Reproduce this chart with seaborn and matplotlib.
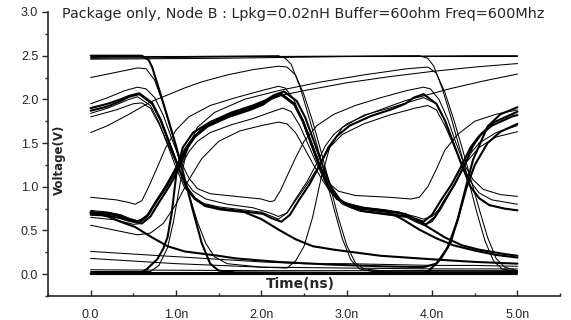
import matplotlib
matplotlib.use("Agg")
import matplotlib.pyplot as plt
from matplotlib.ticker import MultipleLocator, FixedLocator
import pandas as pd
import seaborn as sns

sns.set_style("ticks")
plt.rcParams["font.family"] = ["Liberation Sans", "DejaVu Sans"]

TITLE = "Package only, Node B : Lpkg=0.02nH Buffer=60ohm Freq=600Mhz"
X_LABEL = "Time(ns)"
Y_LABEL = "Voltage(V)"
x_ticks = [0.0, 1.0, 2.0, 3.0, 4.0, 5.0]
x_tick_labels = ["0.0", "1.0n", "2.0n", "3.0n", "4.0n", "5.0n"]
y_ticks = [0.0, 0.5, 1.0, 1.5, 2.0, 2.5, 3.0]
y_tick_labels = ["0.0", "0.5", "1.0", "1.5", "2.0", "2.5", "3.0"]

# Simulated waveforms at node B, (time ns, volts)
hold_high = [(0.0, 2.50), (5.0, 2.50)]
hold_high_b = [(0.0, 2.46), (1.5, 2.47), (3.0, 2.49), (4.5, 2.50), (5.0, 2.50)]

pat_a = [(0.0, 1.87), (0.2, 1.92), (0.35, 1.98), (0.45, 2.03), (0.57, 2.06), (0.72, 1.95),
         (0.82, 1.76), (0.92, 1.50), (1.02, 1.24), (1.12, 1.00), (1.22, 0.87), (1.34, 0.79),
         (1.52, 0.75), (1.77, 0.72), (2.02, 0.69), (2.12, 0.64), (2.235, 0.60), (2.335, 0.68),
         (2.435, 0.84), (2.565, 1.03), (2.685, 1.25), (2.785, 1.45), (2.885, 1.58), (3.035, 1.70),
         (3.285, 1.81), (3.535, 1.89), (3.685, 1.95), (3.785, 2.02), (3.9, 2.06), (4.05, 1.95),
         (4.15, 1.76), (4.25, 1.50), (4.35, 1.24), (4.45, 1.00), (4.55, 0.87), (4.67, 0.79),
         (4.85, 0.75), (5.0, 0.73)]
pat_b = [(0.0, 0.71), (0.2, 0.70), (0.35, 0.67), (0.45, 0.63), (0.57, 0.60), (0.67, 0.68),
         (0.77, 0.84), (0.9, 1.03), (1.02, 1.25), (1.12, 1.45), (1.22, 1.58), (1.37, 1.70),
         (1.62, 1.81), (1.87, 1.89), (2.02, 1.95), (2.12, 2.02), (2.235, 2.06), (2.385, 1.95),
         (2.485, 1.76), (2.585, 1.50), (2.685, 1.24), (2.785, 1.00), (2.885, 0.87), (3.005, 0.79),
         (3.185, 0.75), (3.435, 0.72), (3.685, 0.69), (3.785, 0.64), (3.9, 0.60), (4.0, 0.68),
         (4.1, 0.84), (4.23, 1.03), (4.35, 1.25), (4.45, 1.45), (4.55, 1.58), (4.7, 1.70),
         (4.95, 1.81), (5.0, 1.82)]
pat_c = [(0.0, 0.68), (0.2, 0.67), (0.35, 0.64), (0.45, 0.61), (0.6, 0.58), (0.7, 0.66),
         (0.8, 0.82), (0.93, 1.02), (1.05, 1.25), (1.15, 1.47), (1.25, 1.61), (1.4, 1.74),
         (1.65, 1.85), (1.9, 1.93), (2.05, 1.99), (2.15, 2.05), (2.265, 2.09), (2.415, 1.98),
         (2.515, 1.79), (2.615, 1.52), (2.715, 1.25), (2.815, 1.00), (2.915, 0.86), (3.035, 0.77),
         (3.215, 0.72), (3.465, 0.69), (3.715, 0.66), (3.815, 0.61), (3.93, 0.57), (4.03, 0.65),
         (4.13, 0.82), (4.26, 1.02), (4.38, 1.25), (4.48, 1.47), (4.58, 1.61), (4.73, 1.74),
         (5.0, 1.86)]
pat_d = [(0.0, 1.90), (0.2, 1.95), (0.35, 2.00), (0.45, 2.04), (0.57, 2.07), (0.72, 1.96),
         (0.82, 1.77), (0.92, 1.51), (1.02, 1.25), (1.12, 1.00), (1.22, 0.86), (1.34, 0.78),
         (1.52, 0.74), (1.8, 0.71), (2.0, 0.63), (2.2, 0.51), (2.4, 0.40), (2.6, 0.32),
         (2.85, 0.28), (3.4, 0.21), (4.0, 0.17), (4.5, 0.14), (5.0, 0.12)]
pat_e = [(0.0, 0.71), (0.2, 0.66), (0.35, 0.60), (0.52, 0.54), (0.72, 0.42), (0.9, 0.32),
         (1.1, 0.26), (1.5, 0.21), (1.7, 0.18), (2.2, 0.14), (2.8, 0.11), (3.4, 0.09),
         (3.9, 0.08), (4.05, 0.12), (4.18, 0.30), (4.3, 0.62), (4.4, 0.98), (4.5, 1.25),
         (4.65, 1.50), (4.8, 1.63), (5.0, 1.72)]
pat_f = [(0.0, 0.73), (0.2, 0.71), (0.35, 0.68), (0.45, 0.64), (0.55, 0.61), (0.65, 0.66),
         (0.75, 0.80), (0.87, 1.00), (1.0, 1.22), (1.1, 1.43), (1.2, 1.57), (1.35, 1.70),
         (1.6, 1.82), (1.85, 1.91), (2.0, 1.97), (2.2, 2.04), (2.5, 2.10), (3.0, 2.19),
         (3.5, 2.26), (4.0, 2.32), (4.5, 2.37), (5.0, 2.41)]
pat_g = [(0.0, 1.62), (0.2, 1.70), (0.45, 1.83), (0.7, 1.97), (0.9, 2.05), (1.1, 2.13),
         (1.3, 2.20), (1.6, 2.28), (1.9, 2.34), (2.2, 2.38), (2.3, 2.37), (2.4, 2.28),
         (2.5, 2.05), (2.6, 1.75), (2.7, 1.40), (2.8, 1.03), (2.9, 0.65), (3.0, 0.33),
         (3.1, 0.13), (3.2, 0.06), (3.4, 0.04), (5.0, 0.03)]
pat_h = [(0.0, 2.25), (0.3, 2.31), (0.55, 2.36), (0.65, 2.35), (0.75, 2.22), (0.85, 1.95),
         (0.95, 1.62), (1.05, 1.27), (1.15, 0.92), (1.25, 0.60), (1.35, 0.35), (1.45, 0.20),
         (1.6, 0.12), (2.0, 0.08), (2.3, 0.07), (2.4, 0.15), (2.5, 0.32), (2.6, 0.65),
         (2.7, 1.10), (2.8, 1.45), (2.95, 1.68), (3.2, 1.82), (3.5, 1.90), (3.7, 1.96),
         (3.9, 2.02), (4.05, 1.95), (4.15, 1.76), (4.25, 1.50), (4.35, 1.24), (4.45, 1.00),
         (4.55, 0.87), (4.67, 0.79), (4.85, 0.75), (5.0, 0.73)]
pat_i = [(0.0, 2.50), (0.6, 2.50), (0.68, 2.45), (0.72, 2.37), (0.8, 2.12), (0.9, 1.80),
         (1.0, 1.47), (1.1, 1.10), (1.2, 0.72), (1.3, 0.36), (1.4, 0.12), (1.5, 0.04),
         (1.7, 0.02), (3.9, 0.01), (3.95, 0.03), (4.1, 0.17), (4.22, 0.37), (4.3, 0.63),
         (4.42, 1.09), (4.48, 1.31), (4.65, 1.69), (4.8, 1.83), (5.0, 1.91)]
pat_j = [(0.0, 0.01), (0.6, 0.02), (0.66, 0.06), (0.78, 0.17), (0.85, 0.29), (0.9, 0.42),
         (0.95, 0.70), (1.01, 1.20), (1.08, 1.45), (1.2, 1.62), (1.4, 1.74), (1.65, 1.83),
         (1.9, 1.91), (2.1, 2.00), (2.235, 2.06), (2.385, 1.95), (2.485, 1.76), (2.585, 1.50),
         (2.685, 1.24), (2.785, 1.00), (2.885, 0.87), (3.005, 0.79), (3.185, 0.75), (3.435, 0.72),
         (3.6, 0.71), (3.8, 0.63), (4.0, 0.51), (4.15, 0.42), (4.35, 0.33), (4.55, 0.28),
         (4.85, 0.23), (5.0, 0.21)]
floor_a = [(0.0, 0.05), (2.0, 0.04), (5.0, 0.04)]
floor_b = [(0.0, 0.02), (5.0, 0.02)]
floor_c = [(0.0, 0.00), (5.0, 0.00)]
tail_a = [(0.0, 0.26), (0.5, 0.23), (1.0, 0.20), (1.5, 0.17), (2.0, 0.14), (2.5, 0.12),
          (3.0, 0.12), (3.5, 0.11), (4.0, 0.10), (4.5, 0.10), (5.0, 0.09)]
tail_b = [(0.0, 0.18), (0.5, 0.15), (1.0, 0.12), (1.5, 0.10), (2.0, 0.08), (3.0, 0.07),
          (4.0, 0.06), (5.0, 0.06)]
pat_o = [(0.0, 0.88), (0.3, 0.85), (0.45, 0.82), (0.52, 0.80), (0.6, 0.84), (0.68, 1.00),
         (0.78, 1.22), (0.88, 1.45), (1.0, 1.65), (1.15, 1.80), (1.4, 1.93), (1.7, 2.02),
         (2.0, 2.10), (2.2, 2.15), (2.28, 2.13), (2.38, 2.00), (2.48, 1.75), (2.58, 1.48),
         (2.68, 1.22), (2.78, 1.05), (2.9, 0.95), (3.1, 0.90), (3.5, 0.88), (3.75, 0.86),
         (3.85, 0.88), (3.95, 1.00), (4.05, 1.20), (4.15, 1.42), (4.3, 1.60), (4.5, 1.75),
         (4.75, 1.83), (5.0, 1.88)]
pat_p = [(0.0, 1.95), (0.2, 2.02), (0.4, 2.10), (0.55, 2.14), (0.65, 2.12), (0.75, 2.02),
         (0.85, 1.82), (0.95, 1.55), (1.05, 1.30), (1.15, 1.10), (1.25, 0.98), (1.4, 0.92),
         (1.7, 0.89), (2.0, 0.86), (2.1, 0.83), (2.15, 0.84), (2.22, 0.95), (2.3, 1.12),
         (2.4, 1.33), (2.5, 1.52), (2.65, 1.70), (2.85, 1.83), (3.1, 1.93), (3.4, 2.02),
         (3.7, 2.10), (3.9, 2.14), (3.98, 2.12), (4.08, 2.00), (4.18, 1.78), (4.28, 1.50),
         (4.38, 1.25), (4.48, 1.08), (4.6, 0.97), (4.8, 0.91), (5.0, 0.89)]
pat_q = [(0.0, 0.56), (0.3, 0.50), (0.55, 0.45), (0.7, 0.47), (0.85, 0.58), (1.0, 0.80),
         (1.15, 1.08), (1.3, 1.32), (1.5, 1.52), (1.75, 1.64), (2.0, 1.70), (2.2, 1.74),
         (2.3, 1.72), (2.4, 1.62), (2.5, 1.45), (2.6, 1.27), (2.7, 1.10), (2.8, 0.95),
         (2.95, 0.83), (3.2, 0.76), (3.5, 0.73), (3.8, 0.66), (3.9, 0.63), (4.0, 0.66),
         (4.1, 0.76), (4.2, 0.92), (4.3, 1.10), (4.4, 1.28), (4.55, 1.45), (4.75, 1.57),
         (5.0, 1.63)]
pat_r = [(0.0, 0.65), (0.3, 0.62), (0.5, 0.57), (0.6, 0.58), (0.7, 0.66), (0.8, 0.82),
         (0.92, 1.00), (1.05, 1.22), (1.15, 1.40), (1.25, 1.52), (1.4, 1.62), (1.65, 1.71),
         (1.9, 1.78), (2.1, 1.85), (2.25, 1.90), (2.35, 1.86), (2.45, 1.70), (2.55, 1.48),
         (2.65, 1.26), (2.75, 1.05), (2.85, 0.90), (2.95, 0.80), (3.15, 0.72), (3.45, 0.68),
         (3.7, 0.65), (3.8, 0.60), (3.9, 0.56), (4.0, 0.60), (4.1, 0.74), (4.22, 0.95),
         (4.35, 1.18), (4.45, 1.38), (4.55, 1.50), (4.75, 1.62), (5.0, 1.70)]
pat_s = [(0.0, 1.80), (0.3, 1.88), (0.5, 1.95), (0.6, 1.96), (0.7, 1.90), (0.8, 1.72),
         (0.9, 1.50), (1.0, 1.28), (1.1, 1.08), (1.2, 0.95), (1.35, 0.86), (1.6, 0.80),
         (1.9, 0.76), (2.1, 0.70), (2.2, 0.66), (2.3, 0.70), (2.4, 0.84), (2.55, 1.05),
         (2.7, 1.28), (2.8, 1.45), (2.95, 1.60), (3.2, 1.72), (3.5, 1.82), (3.8, 1.90),
         (3.95, 1.93), (4.05, 1.88), (4.15, 1.70), (4.25, 1.48), (4.35, 1.26), (4.45, 1.06),
         (4.55, 0.93), (4.7, 0.85), (5.0, 0.80)]
pat_t = [(0.0, 2.48), (1.0, 2.49), (2.2, 2.50), (2.28, 2.47), (2.35, 2.40), (2.45, 2.15),
         (2.55, 1.82), (2.65, 1.48), (2.75, 1.12), (2.85, 0.75), (2.95, 0.40), (3.05, 0.16),
         (3.15, 0.06), (3.3, 0.03), (5.0, 0.02)]
pat_u = [(0.0, 2.47), (2.0, 2.49), (3.85, 2.50), (3.95, 2.47), (4.02, 2.38), (4.12, 2.12),
         (4.22, 1.80), (4.32, 1.45), (4.42, 1.10), (4.52, 0.72), (4.62, 0.38), (4.72, 0.15),
         (4.82, 0.06), (5.0, 0.03)]
pat_v = [(0.0, 0.03), (0.7, 0.03), (0.8, 0.10), (0.9, 0.30), (0.97, 0.60), (1.05, 1.05),
         (1.12, 1.40), (1.25, 1.68), (1.45, 1.85), (1.8, 2.00), (2.2, 2.10), (2.7, 2.20),
         (3.2, 2.28), (3.7, 2.35), (3.95, 2.37), (4.05, 2.30), (4.15, 2.08), (4.25, 1.78),
         (4.35, 1.45), (4.45, 1.10), (4.55, 0.75), (4.65, 0.42), (4.75, 0.18), (4.85, 0.08),
         (5.0, 0.04)]
pat_x = [(0.0, 1.84), (0.2, 1.90), (0.35, 1.96), (0.45, 2.00), (0.55, 2.03), (0.7, 1.93),
         (0.8, 1.74), (0.9, 1.48), (1.0, 1.22), (1.1, 0.99), (1.2, 0.88), (1.32, 0.81),
         (1.5, 0.77), (1.75, 0.74), (2.0, 0.71), (2.1, 0.67), (2.2, 0.63), (2.3, 0.70),
         (2.4, 0.86), (2.53, 1.05), (2.65, 1.27), (2.75, 1.47), (2.85, 1.60), (3.0, 1.72),
         (3.25, 1.83), (3.5, 1.92), (3.7, 1.99), (3.9, 2.04), (4.2, 2.12), (4.6, 2.21),
         (5.0, 2.29)]
pat_y = [(0.0, 0.70), (0.2, 0.69), (0.35, 0.66), (0.45, 0.62), (0.57, 0.59), (0.67, 0.67),
         (0.77, 0.83), (0.9, 1.02), (1.02, 1.24), (1.12, 1.44), (1.22, 1.57), (1.37, 1.69),
         (1.62, 1.80), (1.87, 1.88), (2.02, 1.94), (2.12, 2.01), (2.235, 2.05), (2.385, 1.94),
         (2.485, 1.75), (2.585, 1.49), (2.685, 1.23), (2.785, 0.99), (2.885, 0.86), (3.005, 0.80),
         (3.2, 0.76), (3.45, 0.73), (3.65, 0.63), (3.85, 0.51), (4.05, 0.41), (4.25, 0.33),
         (4.5, 0.27), (4.75, 0.22), (5.0, 0.19)]

thin_traces = [hold_high, hold_high_b, pat_f, pat_g, pat_h, floor_a, floor_b, tail_a, tail_b,
               pat_o, pat_p, pat_q, pat_r, pat_s, pat_t, pat_u, pat_v, pat_x]
thick_traces = [pat_a, pat_b, pat_c, pat_d, pat_e, pat_i, pat_j, pat_y, floor_c]

fig = plt.figure(figsize=(5.71, 3.20), dpi=100)
ax = fig.add_axes([0.084, 0.075, 0.897, 0.8875])

for width, group in ((0.75, thin_traces), (1.5, thick_traces)):
    for trace in group:
        df = pd.DataFrame(trace, columns=["t", "v"])
        sns.lineplot(data=df, x="t", y="v", color="black", linewidth=width,
                     estimator=None, sort=False, ax=ax)

ax.set_xlim(-0.5, 5.5)
ax.set_ylim(-0.25, 3.0)
ax.set_xlabel("")
ax.set_ylabel("")
ax.xaxis.set_major_locator(FixedLocator(x_ticks))
ax.set_xticklabels(x_tick_labels)
ax.xaxis.set_minor_locator(MultipleLocator(0.5))
ax.yaxis.set_major_locator(FixedLocator(y_ticks))
ax.set_yticklabels(y_tick_labels)
ax.yaxis.set_minor_locator(MultipleLocator(0.25))
ax.tick_params(axis="x", which="both", direction="in", labelsize=9, pad=9, width=1.0)
ax.tick_params(axis="x", which="major", length=4)
ax.tick_params(axis="x", which="minor", length=2.5)
ax.tick_params(axis="y", which="both", direction="out", labelsize=9, pad=3, width=1.0)
ax.tick_params(axis="y", which="major", length=4)
ax.tick_params(axis="y", which="minor", length=2.5)
sns.despine(ax=ax)
for side in ("left", "bottom"):
    ax.spines[side].set_linewidth(1.2)

ax.text(-0.34, 2.975, TITLE, fontsize=10.4, ha="left", va="center",
        family=["DejaVu Sans"])
ax.text(-0.37, 1.31, Y_LABEL, fontsize=8.5, fontweight="bold", rotation=90,
        ha="center", va="center", family=["DejaVu Sans"])
ax.text(2.46, -0.11, X_LABEL, fontsize=10, fontweight="bold", ha="center", va="center",
        family=["DejaVu Sans"])

fig.savefig("out.png", dpi=100)
